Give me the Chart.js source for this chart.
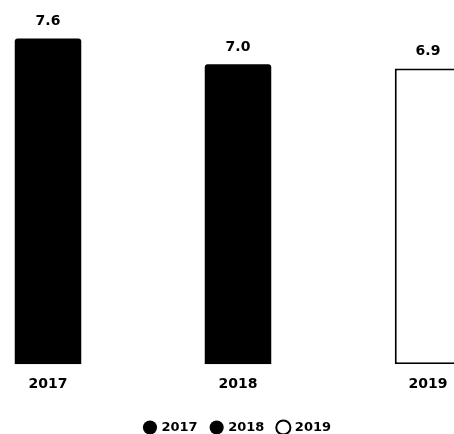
<!DOCTYPE html>
<html>
<head>
<meta charset="utf-8">
<script src="https://cdn.jsdelivr.net/npm/chart.js@4/dist/chart.umd.min.js"></script>
<style>
  html, body { margin: 0; padding: 0; background: #ffffff; overflow: hidden; width: 454px; height: 434px; }
  #wrap { position: absolute; left: -47px; top: 0; width: 570px; height: 444px; }
</style>
</head>
<body>
<div id="wrap"><canvas id="yearChart"></canvas></div>
<script>
// ─────────────────────────────────────────
// DATA
// ─────────────────────────────────────────

const years  = ["2017", "2018", "2019"];
const values = [7.6, 7.0, 6.9];
const fills  = ["#000000", "#000000", "#ffffff"];

// one dataset per year so the legend shows each year
const datasets = years.map((y, i) => ({
  label: y,
  data: years.map((_, j) => j === i ? values[i] : null),
  backgroundColor: fills[i],
  borderColor: "#000000",
  borderWidth: i === 2 ? 2 : 0,
  borderSkipped: i === 2 ? false : "start",
  borderRadius: i === 2 ? 0 : 3,
  barPercentage: 0.35,
  categoryPercentage: 1
}));

// value labels above the bars
const valueLabels = {
  id: "valueLabels",
  afterDatasetsDraw(chart) {
    const ctx = chart.ctx;
    ctx.save();
    ctx.font = "bold 14px 'DejaVu Sans'";
    ctx.fillStyle = "#000000";
    ctx.textAlign = "center";
    ctx.textBaseline = "bottom";
    chart.data.datasets.forEach((ds, i) => {
      const bar = chart.getDatasetMeta(i).data[i];
      ctx.fillText(values[i].toFixed(1), bar.x, bar.y - 10);
    });
    ctx.restore();
  }
};

new Chart(document.getElementById("yearChart"), {
  type: "bar",
  data: { labels: years, datasets: datasets },
  plugins: [valueLabels],
  options: {
    responsive: true,
    maintainAspectRatio: false,
    animation: false,
    layout: { padding: 0 },
    datasets: { bar: { skipNull: true } },
    plugins: {
      tooltip: { enabled: false },
      legend: {
        position: "bottom",
        labels: {
          color: "#000000",
          font: { family: "'DejaVu Sans'", size: 13, weight: "bold" },
          usePointStyle: true,
          pointStyle: "circle",
          boxWidth: 10,
          boxHeight: 10,
          padding: 14
        }
      }
    },
    scales: {
      x: {
        grid: { display: false },
        border: { display: false },
        afterFit: scale => { scale.height += 10; },  // extra gap above legend
        ticks: {
          color: "#000000",
          padding: 4,
          font: { family: "'DejaVu Sans'", size: 14, weight: "bold" }
        }
      },
      y: {
        display: false,
        min: 0,
        max: 8.5
      }
    }
  }
});
</script>
</body>
</html>
